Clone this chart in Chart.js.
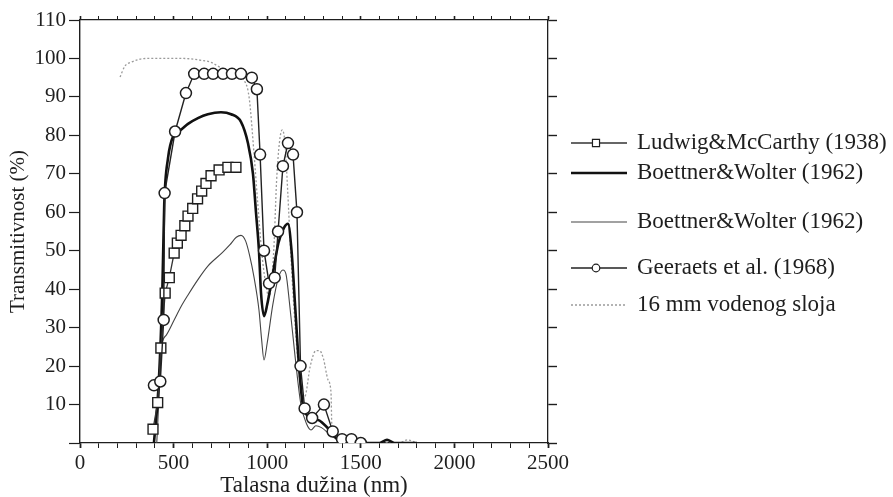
<!DOCTYPE html>
<html>
<head>
<meta charset="utf-8">
<title>Transmitivnost</title>
<script src="https://cdn.jsdelivr.net/npm/chart.js@4.4.1/dist/chart.umd.min.js"></script>
<style>
  html, body { margin: 0; padding: 0; background: #fff; }
</style>
</head>
<body>
<canvas id="chart" width="893" height="497"></canvas>
<script>
// ==================== DATA =====================
// wavelength (nm) / transmittance (%)
const ludwigX = [390, 415, 432, 455, 477, 503, 520, 540, 560, 577, 602, 628, 650, 673, 700, 743, 790, 833];
const ludwigY = [3.6, 10.5, 24.7, 39, 43, 49.4, 52, 54, 56.5, 59, 61, 63.5, 65.5, 67.5, 69.5, 71, 71.7, 71.7];

const thickX = [395, 420, 440, 450, 470, 500, 540, 577, 630, 683, 753, 807, 860, 897, 924, 940, 956, 967, 983, 1000, 1030, 1060, 1090, 1111, 1130, 1150, 1170, 1190, 1218, 1245, 1271, 1300, 1341, 1400, 1600, 1640, 1680, 1800];
const thickY = [0, 15, 40, 62, 74, 80, 81.5, 83, 84.5, 85.5, 86, 85.5, 83.5, 78, 70, 60, 50, 39, 33, 36, 44, 52, 56, 57, 50, 35, 20, 10, 7, 6, 6, 5, 3, 0, 0, 0.8, 0, 0];

const thinX = [410, 425, 432, 460, 503, 540, 577, 630, 683, 760, 800, 835, 860, 885, 905, 930, 956, 970, 983, 1000, 1030, 1060, 1084, 1100, 1120, 1150, 1180, 1210, 1234, 1260, 1290, 1340, 1400];
const thinY = [0, 15, 24, 28, 32, 35.5, 38.5, 42.5, 46, 49.5, 51.5, 53.5, 54, 52.5, 49, 43, 34.6, 27, 21.6, 26, 36, 43, 45, 44, 36, 22, 10, 5, 3.4, 4.5, 4, 2, 0];

const geeraetsX = [395, 429, 447, 452, 508, 566, 610, 663, 711, 764, 812, 860, 918, 945, 962, 983, 1010, 1040, 1058, 1084, 1111, 1138, 1159, 1178, 1200, 1240, 1303, 1350, 1400, 1450, 1500];
const geeraetsY = [15, 16, 32, 65, 81, 91, 96, 96, 96, 96, 96, 96, 95, 92, 75, 50, 41.5, 43, 55, 72, 78, 75, 60, 20, 9, 6.5, 10, 3, 1, 1, 0];

const waterX = [214, 240, 272, 320, 363, 450, 550, 650, 700, 737, 780, 830, 876, 903, 930, 950, 970, 990, 1010, 1035, 1050, 1065, 1080, 1095, 1110, 1125, 1150, 1180, 1200, 1230, 1260, 1280, 1300, 1325, 1341, 1345, 1380, 1420, 1700, 1750, 1800];
const waterY = [95.2, 98, 99, 99.8, 100, 100, 100, 99.5, 99, 98, 97, 96.5, 94.4, 90, 75, 62, 50, 42, 38, 50, 68, 78, 81.4, 78, 65, 50, 30, 14, 12, 20, 24, 24, 22, 16.4, 13, 5, 1, 0, 0, 0.8, 0];

const seriesLabels = [
  "Ludwig&McCarthy (1938)",
  "Boettner&Wolter (1962)",
  "Boettner&Wolter (1962)",
  "Geeraets et al. (1968)",
  "16 mm vodenog sloja",
];

// =============== STYLE =================
const SERIF = "'Liberation Serif', 'DejaVu Serif', serif";
const INK = "#1e1e1e";
const LEGEND_ROWS = [143, 173, 222, 268, 305];

function pts(xs, ys) {
  return xs.map((x, i) => ({ x: x, y: ys[i] }));
}

// legend drawn on the right of the plot, outside the axes
const sideLegend = {
  id: "sideLegend",
  afterDraw(chart) {
    const ctx = chart.ctx;
    chart.data.datasets.forEach((ds, i) => {
      const y = LEGEND_ROWS[i];
      ctx.save();
      ctx.strokeStyle = ds.borderColor;
      ctx.lineWidth = ds.borderWidth;
      ctx.setLineDash(ds.borderDash || []);
      ctx.beginPath();
      ctx.moveTo(571, y);
      ctx.lineTo(627, y);
      ctx.stroke();
      ctx.setLineDash([]);
      if (ds.pointRadius > 0) {
        ctx.fillStyle = "#fff";
        ctx.strokeStyle = ds.pointBorderColor;
        ctx.lineWidth = 1.2;
        Chart.helpers.drawPoint(
          ctx,
          { pointStyle: ds.pointStyle, radius: ds.pointStyle === "rect" ? 5 : 3.8, borderWidth: 1.2, rotation: 0 },
          596,
          y
        );
      }
      ctx.fillStyle = INK;
      ctx.font = "23px " + SERIF;
      ctx.textBaseline = "middle";
      ctx.textAlign = "left";
      ctx.fillText(ds.label, 637, y);
      ctx.restore();
    });
  },
};

// ============== CHART ===============
const ctx = document.getElementById("chart").getContext("2d");
new Chart(ctx, {
  type: "line",
  data: {
    datasets: [
      {
        label: seriesLabels[0],
        data: pts(ludwigX, ludwigY),
        borderColor: "#333",
        borderWidth: 1.3,
        pointStyle: "rect",
        pointRadius: 7,
        pointBorderWidth: 1.4,
        pointBorderColor: INK,
        pointBackgroundColor: "#fff",
        tension: 0,
        order: 1,
      },
      {
        label: seriesLabels[1],
        data: pts(thickX, thickY),
        borderColor: "#111",
        borderWidth: 2.6,
        pointRadius: 0,
        cubicInterpolationMode: "monotone",
        order: 2,
      },
      {
        label: seriesLabels[2],
        data: pts(thinX, thinY),
        borderColor: "#444",
        borderWidth: 1.1,
        pointRadius: 0,
        cubicInterpolationMode: "monotone",
        order: 3,
      },
      {
        label: seriesLabels[3],
        data: pts(geeraetsX, geeraetsY),
        borderColor: "#222",
        borderWidth: 1.4,
        pointStyle: "circle",
        pointRadius: 5.5,
        pointBorderWidth: 1.5,
        pointBorderColor: INK,
        pointBackgroundColor: "#fff",
        tension: 0,
        order: 0,
      },
      {
        label: seriesLabels[4],
        data: pts(waterX, waterY),
        borderColor: "#9a9a9a",
        borderWidth: 1.3,
        borderDash: [2, 2],
        pointRadius: 0,
        cubicInterpolationMode: "monotone",
        order: 4,
      },
    ],
  },
  options: {
    responsive: false,
    animation: false,
    layout: { padding: 0 },
    plugins: {
      legend: { display: false },
      tooltip: { enabled: false },
    },
    scales: {
      x: {
        type: "linear",
        position: "bottom",
        min: 0,
        max: 2500,
        ticks: {
          stepSize: 100,
          autoSkip: false,
          maxRotation: 0,
          padding: 3,
          color: INK,
          font: { family: SERIF, size: 21 },
          callback: (v) => (v % 500 === 0 ? String(v) : ""),
        },
        grid: {
          drawOnChartArea: false,
          tickLength: 5,
          tickColor: INK,
          tickWidth: (c) => (c.tick && c.tick.value % 500 === 0 ? 1.8 : 1),
        },
        border: { color: INK, width: 1.3 },
        title: {
          display: true,
          text: "Talasna dužina (nm)",
          color: INK,
          font: { family: SERIF, size: 23, lineHeight: 1 },
          padding: { top: 0, bottom: 0 },
        },
        afterFit: (s) => { s.height = 54; },
      },
      xTop: {
        type: "linear",
        position: "top",
        min: 0,
        max: 2500,
        ticks: { display: false, stepSize: 100, autoSkip: false },
        grid: {
          drawOnChartArea: false,
          tickLength: 4,
          tickColor: INK,
          tickWidth: (c) => (c.tick && c.tick.value % 500 === 0 ? 1.6 : 1),
        },
        border: { color: INK, width: 1.3 },
        afterFit: (s) => { s.height = 20; },
      },
      y: {
        type: "linear",
        position: "left",
        min: 0,
        max: 110,
        ticks: {
          stepSize: 10,
          padding: 3,
          color: INK,
          font: { family: SERIF, size: 21 },
          callback: (v) => (v === 0 ? "" : String(v)),
        },
        grid: { drawOnChartArea: false, tickLength: 11, tickColor: INK, tickWidth: 1.2 },
        border: { color: INK, width: 1.4 },
        title: {
          display: true,
          text: "Transmitivnost (%)",
          color: INK,
          font: { family: SERIF, size: 21, lineHeight: 1.2 },
          padding: { top: 6, bottom: 0 },
        },
        afterFit: (s) => { s.width = 80; },
      },
      yRight: {
        type: "linear",
        position: "right",
        min: 0,
        max: 110,
        ticks: { display: false, stepSize: 10 },
        grid: { drawOnChartArea: false, tickLength: 9, tickColor: INK, tickWidth: 1.4 },
        border: { color: INK, width: 1.3 },
        afterFit: (s) => { s.width = 345; },
      },
    },
  },
  plugins: [sideLegend],
});
</script>
</body>
</html>
